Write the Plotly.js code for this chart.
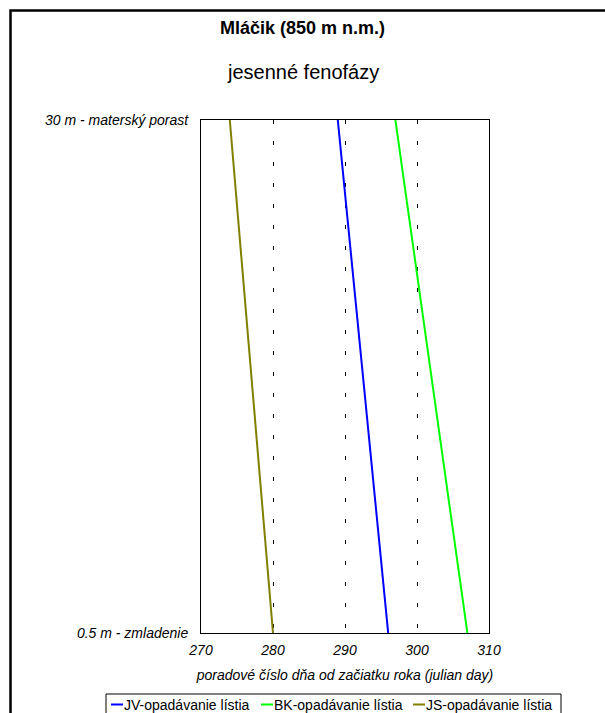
<!DOCTYPE html>
<html>
<head>
<meta charset="utf-8">
<script src="https://cdn.plot.ly/plotly-3.0.1.min.js"></script>
<style>html,body{margin:0;padding:0;background:#fff;}#chart{width:605px;height:713px;}</style>
</head>
<body>
<div id="chart"></div>
<script>
// ---- data ----
var heights = [0.5, 30];
var heightLabels = ["0.5 m - zmladenie", "30 m - materský porast"];
var seriesNames = ["JV-opadávanie lístia", "BK-opadávanie lístia", "JS-opadávanie lístia"];
var seriesColors = ["#0000ff", "#00ff00", "#808000"];
var jvDays = [296, 289];
var bkDays = [307, 297];
var jsDays = [280, 274];
var seriesDays = [jvDays, bkDays, jsDays];
var xTicks = [270, 280, 290, 300, 310];
var titleText = "Mláčik (850 m n.m.)";
var subtitleText = "jesenné fenofázy";
var xTitleText = "poradové číslo dňa od začiatku roka (julian day)";

// ---- layout helpers (pixel -> paper) ----
var W = 605, H = 713, L = 201, R = 489, T = 120, B = 633;
function px(x){ return (x - L) / (R - L); }
function py(y){ return (B - y) / (B - T); }
var FONT = "Liberation Sans, Arial, sans-serif";

var traces = seriesNames.map(function(n, i){
  return {x: seriesDays[i], y: heights, type: "scatter", mode: "lines", name: n,
          line: {color: seriesColors[i], width: 2}, showlegend: false, hoverinfo: "skip"};
});

var shapes = [
  {type: "rect", xref: "paper", yref: "paper", x0: px(10.5), x1: px(640), y0: py(10.5), y1: py(760),
   line: {color: "#000", width: 2.5}, fillcolor: "rgba(0,0,0,0)", layer: "below"},
  {type: "rect", xref: "paper", yref: "paper", x0: px(106), x1: px(561), y0: py(694), y1: py(760),
   line: {color: "#000", width: 1}, fillcolor: "rgba(0,0,0,0)"}
];
var annotations = [
  {text: "<b>" + titleText + "</b>", xref: "paper", yref: "paper", x: px(302), y: py(28), showarrow: false,
   xanchor: "center", yanchor: "middle", font: {family: FONT, size: 18, color: "#000"}},
  {text: subtitleText, xref: "paper", yref: "paper", x: px(303), y: py(72), showarrow: false,
   xanchor: "center", yanchor: "middle", font: {family: FONT, size: 20, color: "#000"}}
];
var legendStarts = [111, 261, 413];
seriesNames.forEach(function(n, i){
  var x0 = legendStarts[i];
  shapes.push({type: "line", xref: "paper", yref: "paper", x0: px(x0), x1: px(x0 + 12), y0: py(704.5), y1: py(704.5),
    line: {color: seriesColors[i], width: 2}});
  annotations.push({text: n, xref: "paper", yref: "paper", x: px(x0 + 12), y: py(704.5), showarrow: false,
    xanchor: "left", yanchor: "middle", xshift: -1, font: {family: FONT, size: 14, color: "#000"}});
});

var layout = {
  width: W, height: H,
  margin: {l: L, r: W - R, t: T, b: H - B, pad: 0},
  paper_bgcolor: "#fff", plot_bgcolor: "#fff",
  showlegend: false,
  font: {family: FONT, size: 14, color: "#000"},
  xaxis: {range: [270, 310], tickvals: xTicks, ticktext: xTicks.map(String),
    showgrid: true, gridcolor: "#000", gridwidth: 1, griddash: "4px,17px",
    showline: true, linecolor: "#000", linewidth: 1, mirror: true,
    ticks: "", zeroline: false, ticklabelstandoff: 4,
    tickfont: {family: FONT, size: 14, style: "italic", color: "#000"},
    title: {text: "<i>" + xTitleText + "</i>", font: {family: FONT, size: 14, color: "#000"}, standoff: 13}},
  yaxis: {range: [0.5, 30], tickvals: heights, ticktext: heightLabels,
    showgrid: false, showline: true, linecolor: "#000", linewidth: 1, mirror: true,
    ticks: "", zeroline: false, ticklabelstandoff: 9,
    tickfont: {family: FONT, size: 14, style: "italic", color: "#000"}},
  shapes: shapes,
  annotations: annotations
};
Plotly.newPlot("chart", traces, layout, {staticPlot: true, displayModeBar: false});
</script>
</body>
</html>
